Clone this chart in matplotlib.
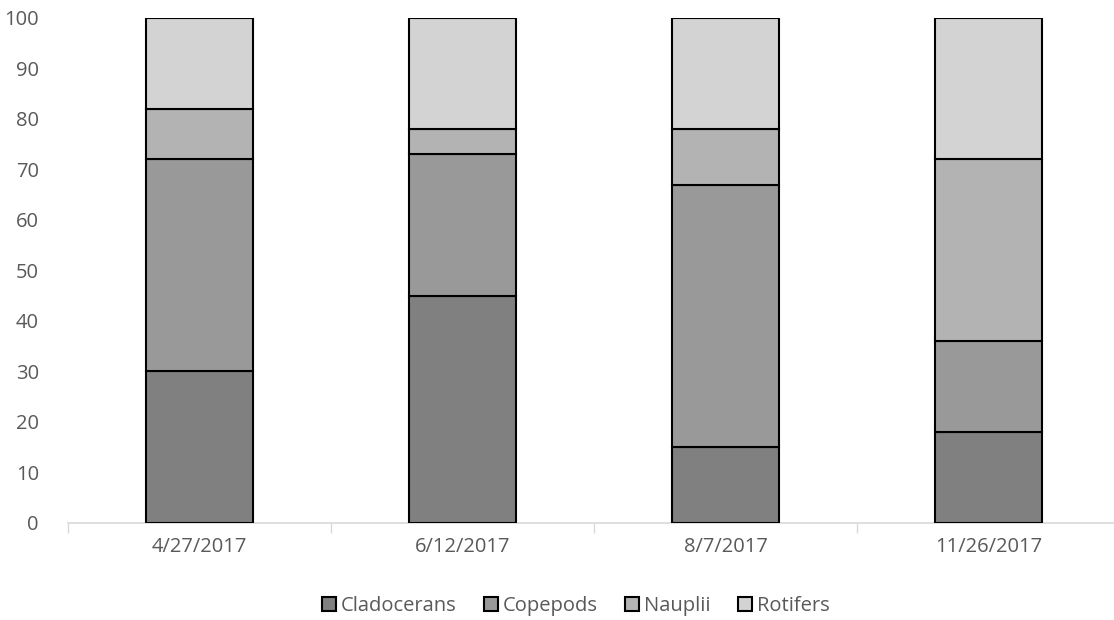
import matplotlib
matplotlib.use("Agg")
import matplotlib.pyplot as plt
from matplotlib.patches import Patch
import numpy as np

dates = ["4/27/2017", "6/12/2017", "8/7/2017", "11/26/2017"]
cladocerans = [30, 45, 15, 18]
copepods = [42, 28, 52, 18]
nauplii = [10, 5, 11, 36]
rotifers = [18, 22, 22, 28]
y_ticks = [0, 10, 20, 30, 40, 50, 60, 70, 80, 90, 100]

series = [
    ("Cladocerans", cladocerans, "#808080"),
    ("Copepods", copepods, "#999999"),
    ("Nauplii", nauplii, "#b3b3b3"),
    ("Rotifers", rotifers, "#d3d3d3"),
]

plt.rcParams["font.family"] = ["Open Sans", "DejaVu Sans"]
text_color = "#595959"
fs = 14.5

fig = plt.figure(figsize=(11.14, 6.2), dpi=100)
# plot area runs slightly past the right edge of the canvas
ax = fig.add_axes([68 / 1114, 1 - 523 / 620, 1052 / 1114, 505 / 620])

x = np.arange(len(dates))
bottom = np.zeros(len(dates))
for name, vals, color in series:
    ax.bar(x, vals, bottom=bottom, width=0.405, color=color,
           edgecolor="black", linewidth=1.5, label=name, zorder=3)
    bottom += np.array(vals)

ax.set_xlim(-0.5, len(dates) - 0.5)
ax.set_ylim(0, 100)
ax.set_yticks(y_ticks)
ax.tick_params(axis="y", length=0, pad=21, labelsize=fs, labelcolor=text_color)

# category boundary ticks on the x axis
ax.set_xticks(np.arange(-0.5, len(dates), 1.0))
ax.set_xticklabels([])
ax.tick_params(axis="x", which="major", length=7, width=1, color="#d9d9d9", direction="out")
ax.set_xticks(x, minor=True)
ax.set_xticklabels(dates, minor=True)
ax.tick_params(axis="x", which="minor", length=0, pad=10, labelsize=fs, labelcolor=text_color)

for s in ["top", "right", "left"]:
    ax.spines[s].set_visible(False)
ax.spines["bottom"].set_color("#d9d9d9")
ax.spines["bottom"].set_linewidth(1.2)

handles = [Patch(facecolor=c, edgecolor="black", linewidth=1.5, label=n) for n, _, c in series]
fig.legend(handles=handles, loc="center", bbox_to_anchor=(576 / 1114, 1 - 606 / 620),
           ncol=4, frameon=False, fontsize=fs, labelcolor=text_color,
           handlelength=0.7, handleheight=0.7, handletextpad=0.25, columnspacing=1.35,
           borderpad=0)

fig.savefig("out.png", dpi=100)
